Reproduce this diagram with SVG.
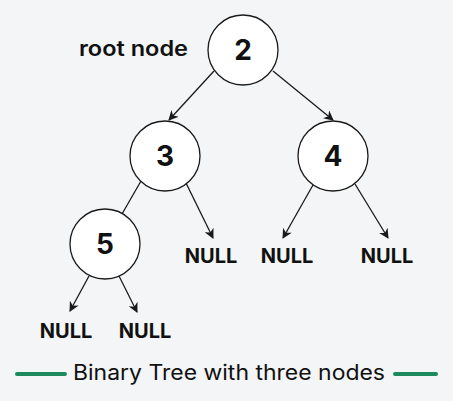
<svg xmlns="http://www.w3.org/2000/svg" width="453" height="401" viewBox="0 0 453 401">
<defs>
<style>
.node circle{fill:#fff;stroke:#1a1a1a;stroke-width:1.3}
.num{font-family:Inter,"Liberation Sans",sans-serif;font-weight:700;font-size:28px;fill:#111;text-anchor:middle}
.null{font-family:Inter,"Liberation Sans",sans-serif;font-weight:700;font-size:20px;fill:#111;text-anchor:middle}
.edge{stroke:#1a1a1a;stroke-width:1.3;fill:none;marker-end:url(#arr)}
.plain{stroke:#1a1a1a;stroke-width:1.3;fill:none}
.cap{font-family:Inter,"Liberation Sans",sans-serif;font-size:21px;fill:#111}
.gl{stroke:#1d8a5e;stroke-width:4;stroke-linecap:round}
</style>
<marker id="arr" viewBox="0 0 10 10" refX="9" refY="5" markerWidth="10" markerHeight="10" markerUnits="userSpaceOnUse" orient="auto">
<path d="M0,0 L10,5 L0,10 L3,5 Z" fill="#1a1a1a"/>
</marker>
</defs>
<rect width="453" height="401" fill="#f3f5f7"/>
<g id="connectors">
<line class="edge" x1="214" y1="71" x2="169" y2="120"/>
<line class="edge" x1="273" y1="71" x2="333" y2="120"/>
<line class="plain" x1="141" y1="181" x2="122" y2="214"/>
<line class="edge" x1="186" y1="183" x2="213" y2="238"/>
<line class="edge" x1="313" y1="185" x2="283" y2="238"/>
<line class="edge" x1="355" y1="184" x2="388" y2="238"/>
<line class="edge" x1="89" y1="276" x2="70" y2="311"/>
<line class="edge" x1="119" y1="276" x2="137" y2="312"/>
</g>
<g id="label-root"><text x="79" y="56" font-family="Inter,'Liberation Sans',sans-serif" font-weight="600" font-size="21" fill="#111" textLength="109" lengthAdjust="spacingAndGlyphs">root node</text></g>
<g id="node-2" class="node"><circle cx="243" cy="50" r="35"/><text class="num" x="243" y="60">2</text></g>
<g id="node-3" class="node"><circle cx="165" cy="156" r="35"/><text class="num" x="165" y="166">3</text></g>
<g id="node-4" class="node"><circle cx="333" cy="156" r="35"/><text class="num" x="333" y="166">4</text></g>
<g id="node-5" class="node"><circle cx="105" cy="244" r="35"/><text class="num" x="105" y="254">5</text></g>
<g id="null-1"><text class="null" x="211" y="263">NULL</text></g>
<g id="null-2"><text class="null" x="287" y="263">NULL</text></g>
<g id="null-3"><text class="null" x="387" y="263">NULL</text></g>
<g id="null-4"><text class="null" x="66" y="338">NULL</text></g>
<g id="null-5"><text class="null" x="145" y="338">NULL</text></g>
<g id="caption">
<line class="gl" x1="17" y1="374" x2="65" y2="374"/>
<line class="gl" x1="395" y1="374" x2="436" y2="374"/>
<text class="cap" x="73" y="380" textLength="312" lengthAdjust="spacingAndGlyphs">Binary Tree with three nodes</text>
</g>
</svg>
